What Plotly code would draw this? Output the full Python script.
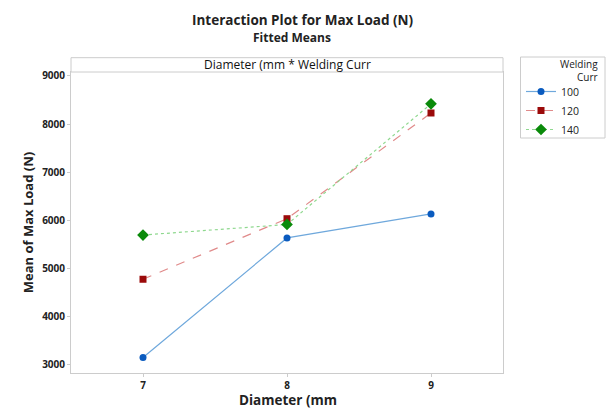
import plotly.graph_objects as go

diameter = [7, 8, 9]
curr_labels = ["100", "120", "140"]
load_100 = [3140, 5630, 6130]
load_120 = [4770, 6030, 8230]
load_140 = [5690, 5910, 8420]
yticks = [3000, 4000, 5000, 6000, 7000, 8000, 9000]

FONT = "Open Sans"
W, H = 606, 410
L, R, T, B = 71, 103, 72, 37
PW, PH = W - L - R, H - T - B

def px_x(x):
    return (x - L) / PW

def px_y(y):
    return (H - B - y) / PH

fig = go.Figure()
styles = [
    (load_100, "#0a5bbf", "#6fa8dc", "solid", "circle", 7),
    (load_120, "#9b0a0a", "#e08a8a", "dash", "square", 7),
    (load_140, "#0a8a0a", "#8fd88f", "dot", "diamond", 9),
]
for name, (vals, mc, lc, dash, sym, ms) in zip(curr_labels, styles):
    fig.add_trace(go.Scatter(
        x=diameter, y=vals, name=name, mode="lines+markers",
        line=dict(color=lc, width=1.2, dash=dash),
        marker=dict(color=mc, symbol=sym, size=ms),
    ))

axis_common = dict(showgrid=False, zeroline=False, showline=True, linecolor="#cccccc",
                   mirror=True, ticks="outside", ticklen=3, tickcolor="#cccccc",
                   tickfont=dict(size=10, family=FONT, color="#222"))

fig.update_layout(
    width=W, height=H,
    margin=dict(l=L, r=R, t=T, b=B),
    paper_bgcolor="white", plot_bgcolor="white",
    font=dict(family=FONT, color="#222"),
    showlegend=True,
    legend=dict(x=px_x(521), y=px_y(77), xanchor="left", yanchor="top",
                bgcolor="rgba(0,0,0,0)", borderwidth=0,
                font=dict(size=10.5, family=FONT, color="#222"),
                tracegroupgap=0),
    xaxis=dict(range=[6.5, 9.5], tickvals=diameter,
               ticktext=["<b>%d</b>" % d for d in diameter],
               **axis_common),
    yaxis=dict(range=[2819, 9083], tickvals=yticks,
               ticktext=["<b>%d</b>" % v for v in yticks],
               title=dict(text="<b>Mean of Max Load (N)</b>", font=dict(size=13, family=FONT), standoff=5),
               **axis_common),
    shapes=[
        dict(type="rect", xref="paper", yref="paper", x0=0, x1=1, y0=1, y1=px_y(57.7),
             line=dict(color="#cccccc", width=1), fillcolor="white"),
        dict(type="rect", xref="paper", yref="paper", x0=px_x(520.5), x1=px_x(605), y0=px_y(138), y1=px_y(57),
             line=dict(color="#cccccc", width=1), fillcolor="rgba(0,0,0,0)"),
    ],
    annotations=[
        dict(text="<b>Interaction Plot for Max Load (N)</b>", xref="paper", yref="paper",
             x=px_x(303), y=px_y(20), xanchor="center", yanchor="middle",
             showarrow=False, font=dict(size=13.5, family=FONT)),
        dict(text="<b>Fitted Means</b>", xref="paper", yref="paper",
             x=px_x(292), y=px_y(37), xanchor="center", yanchor="middle",
             showarrow=False, font=dict(size=12, family=FONT)),
        dict(text="Diameter (mm * Welding Curr", xref="paper", yref="paper",
             x=0.5, y=px_y(65), xanchor="center", yanchor="middle",
             showarrow=False, font=dict(size=12, family=FONT, color="#111")),
        dict(text="<b>Diameter (mm</b>", xref="paper", yref="paper",
             x=px_x(288), y=px_y(400), xanchor="center", yanchor="middle",
             showarrow=False, font=dict(size=13.5, family=FONT)),
        dict(text="Welding", xref="paper", yref="paper",
             x=px_x(600), y=px_y(64), xanchor="right", yanchor="middle",
             showarrow=False, font=dict(size=10, family=FONT, color="#222")),
        dict(text="Curr", xref="paper", yref="paper",
             x=px_x(600), y=px_y(77), xanchor="right", yanchor="middle",
             showarrow=False, font=dict(size=10, family=FONT, color="#222")),
    ],
)
fig.write_html("out.html")
